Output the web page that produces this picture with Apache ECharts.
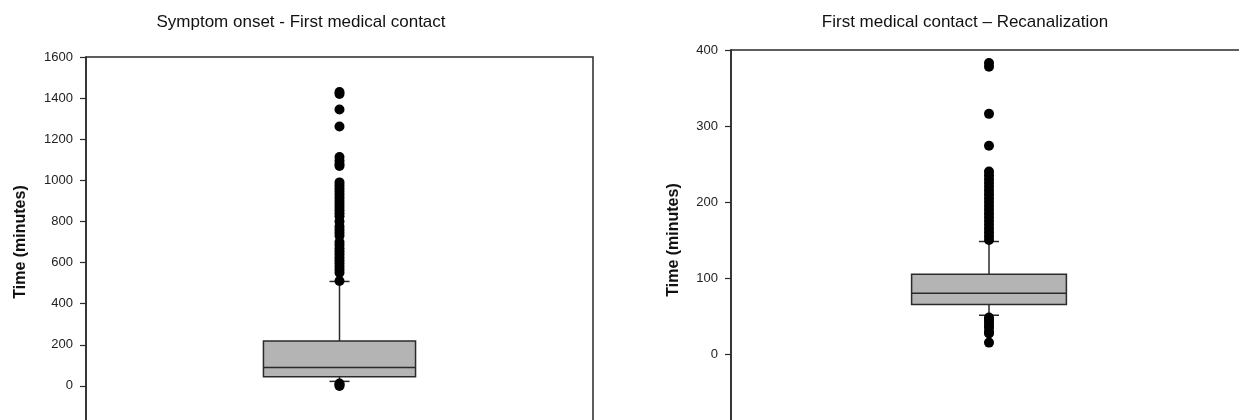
<!DOCTYPE html>
<html><head><meta charset="utf-8">
<script src="https://cdn.jsdelivr.net/npm/echarts@6/dist/echarts.min.js"></script>
<style>html,body{margin:0;padding:0;background:#fff}#c{width:1239px;height:420px}</style>
</head><body><div id="c"></div>
<script>
// ---- data ----
const titles = ["Symptom onset - First medical contact", "First medical contact \u2013 Recanalization"];
const yAxisName = "Time (minutes)";
// [lower whisker, Q1, median, Q3, upper whisker]
const boxLeft = [22, 45, 90, 218, 508];
const boxRight = [51, 65, 80, 105, 148];
const outliersLeft = [1430, 1420, 1345, 1262, 1113, 1095, 1080, 1070, 990, 975, 960, 945, 930, 915, 900, 885, 870, 855, 840, 825, 800, 775, 760, 745, 730, 700, 685, 670, 655, 640, 625, 610, 595, 580, 565, 550, 510, 12, 5, 0];
const outliersRight = [383, 378, 316, 274, 240, 235, 230, 225, 220, 215, 210, 205, 200, 195, 190, 185, 180, 175, 170, 165, 160, 155, 150, 48, 45, 42, 38, 35, 30, 27, 15];
const ticksLeft = {min: -200, max: 1600, interval: 200};
const ticksRight = {min: -100, max: 400, interval: 100};

const chart = echarts.init(document.getElementById('c'));
const font = '"Liberation Sans", Arial, sans-serif';
const dark = '#2a2a2a';

function boxRender(params, api) {
  const x = api.value(0);
  const lo = api.value(1), q1 = api.value(2), med = api.value(3), q3 = api.value(4), hi = api.value(5);
  const pLo = api.coord([x, lo]), pQ1 = api.coord([x, q1]), pMed = api.coord([x, med]), pQ3 = api.coord([x, q3]), pHi = api.coord([x, hi]);
  const bw = api.size([1, 0])[0] * 0.3;
  const cap = 20;
  const cx = pMed[0];
  const ls = {stroke: dark, lineWidth: 1.5};
  return {type: 'group', children: [
    {type: 'line', shape: {x1: cx, y1: pQ3[1], x2: cx, y2: pHi[1]}, style: ls},
    {type: 'line', shape: {x1: cx - cap/2, y1: pHi[1], x2: cx + cap/2, y2: pHi[1]}, style: ls},
    {type: 'line', shape: {x1: cx, y1: pQ1[1], x2: cx, y2: pLo[1]}, style: ls},
    {type: 'line', shape: {x1: cx - cap/2, y1: pLo[1], x2: cx + cap/2, y2: pLo[1]}, style: ls},
    {type: 'rect', shape: {x: cx - bw/2, y: pQ3[1], width: bw, height: pQ1[1] - pQ3[1]}, style: {fill: '#b4b4b4', stroke: dark, lineWidth: 1.5}},
    {type: 'line', shape: {x1: cx - bw/2, y1: pMed[1], x2: cx + bw/2, y2: pMed[1]}, style: ls}
  ]};
}

function yAx(idx, t) {
  return {
    type: 'value', gridIndex: idx, min: t.min, max: t.max, interval: t.interval,
    name: yAxisName, nameLocation: 'middle', nameGap: idx === 0 ? 57 : 49,
    nameTextStyle: {fontFamily: font, fontSize: 16, fontWeight: 'bold', color: '#111'},
    axisLine: {show: true, lineStyle: {color: dark, width: 1.5}},
    axisTick: {show: true, length: 6, lineStyle: {color: dark, width: 1.2}},
    axisLabel: {fontFamily: font, fontSize: 13, color: '#222', margin: 13,
      formatter: v => v < 0 ? '' : String(v)},
    splitLine: {show: false}
  };
}
function xAx(idx) {
  return {type: 'category', gridIndex: idx, data: [''], boundaryGap: true,
    axisLine: {show: false}, axisTick: {show: false}, axisLabel: {show: false}, splitLine: {show: false}};
}

chart.setOption({
  animation: false,
  backgroundColor: '#fff',
  title: [
    {text: titles[0], left: 296, top: 9, textAlign: 'center', textStyle: {fontFamily: font, fontSize: 17, fontWeight: 'normal', color: '#111'}},
    {text: titles[1], left: 960, top: 9, textAlign: 'center', textStyle: {fontFamily: font, fontSize: 17, fontWeight: 'normal', color: '#111'}}
  ],
  grid: [
    {left: 86, top: 57, width: 507, height: 370, outerBoundsMode: 'none', containLabel: false, show: true, borderColor: dark, borderWidth: 1.5, backgroundColor: 'transparent'},
    {left: 731, top: 50, width: 516, height: 380, outerBoundsMode: 'none', containLabel: false, show: true, borderColor: dark, borderWidth: 1.5, backgroundColor: 'transparent'}
  ],
  xAxis: [xAx(0), xAx(1)],
  yAxis: [yAx(0, ticksLeft), yAx(1, ticksRight)],
  series: [
    {type: 'custom', xAxisIndex: 0, yAxisIndex: 0, renderItem: boxRender, data: [[0].concat(boxLeft)], encode: {x: 0, y: [1,2,3,4,5]}, z: 2},
    {type: 'custom', xAxisIndex: 1, yAxisIndex: 1, renderItem: boxRender, data: [[0].concat(boxRight)], encode: {x: 0, y: [1,2,3,4,5]}, z: 2},
    {type: 'scatter', xAxisIndex: 0, yAxisIndex: 0, symbol: 'circle', symbolSize: 10, itemStyle: {color: '#000', opacity: 1}, data: outliersLeft.map(v => [0, v]), z: 3},
    {type: 'scatter', xAxisIndex: 1, yAxisIndex: 1, symbol: 'circle', symbolSize: 10, itemStyle: {color: '#000', opacity: 1}, data: outliersRight.map(v => [0, v]), z: 3}
  ]
});
</script></body></html>
